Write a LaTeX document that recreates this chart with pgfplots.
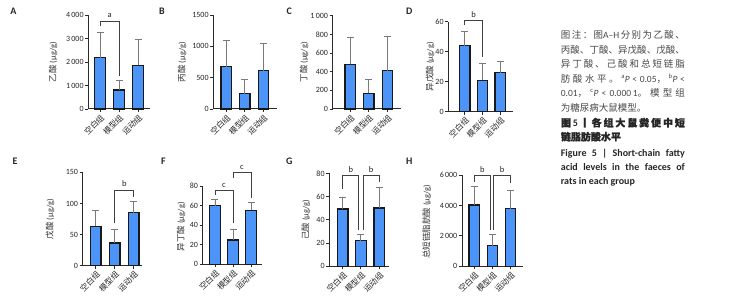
\documentclass[border=0pt]{standalone}
\usepackage{fontspec}
\setmainfont{Carlito}
\newfontfamily\cjk{Noto Sans CJK SC}
\newfontfamily\cjkb[FakeBold=1.2]{Noto Sans CJK SC}
\usepackage{pgfplots}
\pgfplotsset{compat=1.18}
\makeatletter
\def\spread#1{\spread@a#1\spread@end}
\def\spread@a#1{#1\spread@b}
\def\spread@b#1{\ifx\spread@end#1\else\hskip 0pt plus 1fil\relax#1\expandafter\spread@b\fi}
\makeatother
\def\g{\hskip 0pt plus 1fil\relax}
\definecolor{barblue}{HTML}{4D94F8}
\definecolor{axisc}{HTML}{2B2B2B}
\definecolor{errc}{HTML}{7A7A7A}
\pgfplotsset{
  panel/.style={
    scale only axis, anchor=south west, clip=false,
    axis x line*=bottom, axis y line*=left,
    axis line style={-, line width=1pt, color=axisc},
    ymin=0, xtick={0,1,2},
    xticklabels={空白组,模型组,运动组},
    tick align=outside, major tick length=3pt,
    tick style={line width=0.9pt, color=axisc},
    x tick label style={font=\cjk\fontsize{8}{8}\selectfont, rotate=45, anchor=north east, inner sep=1pt, color=black!85},
    y tick label style={font=\fontsize{8}{8}\selectfont, inner sep=1.5pt, color=black!85},
    /pgf/number format/assume math mode=true,
    /pgf/number format/1000 sep={\,},
    ybar, bar width=10.5pt,
  },
  barplot/.style={fill=barblue, draw=black!90, line width=1.2pt,
    error bars/.cd, y dir=plus, y explicit,
      error bar style={line width=0.9pt, color=errc},
      error mark options={rotate=90, mark size=3.5pt, line width=0.9pt, color=errc}},
}
\tikzset{
  bracket/.style={line width=0.9pt, color=black!75},
  sig/.style={font=\fontsize{8.5}{8.5}\selectfont, color=black!85, inner sep=0pt},
  ylab/.style={rotate=90, font=\fontsize{8.5}{8.5}\selectfont, color=black!80, inner sep=0pt},
}
\begin{document}
\begin{tikzpicture}
\useasboundingbox (0pt,0pt) rectangle (740pt,308pt);
\begin{scope}[every node/.style={font=\bfseries\fontsize{10}{10}\selectfont, color=black!85}]
\node at (13.3pt,297pt) {A};
\node at (162pt,297pt) {B};
\node at (289.3pt,297pt) {C};
\node at (409.3pt,297pt) {D};
\node at (15pt,147pt) {E};
\node at (163.3pt,147pt) {F};
\node at (289.3pt,147pt) {G};
\node at (409.3pt,147pt) {H};
\end{scope}
% y axis titles
\node[ylab] at (53pt,246pt) {{\cjk 乙酸} (μg/g)};
\node[ylab] at (182pt,246pt) {{\cjk 丙酸} (μg/g)};
\node[ylab] at (304pt,245.6pt) {{\cjk 丁酸} (μg/g)};
\node[ylab] at (430pt,241.3pt) {{\cjk 异戊酸} (μg/g)};
\node[ylab] at (50pt,89pt) {{\cjk 戊酸} (μg/g)};
\node[ylab] at (181pt,81.3pt) {{\cjk 异丁酸} (μg/g)};
\node[ylab] at (305.7pt,88.2pt) {{\cjk 己酸} (μg/g)};
\node[ylab] at (426.7pt,86.3pt) {{\cjk 总短链脂肪酸} (μg/g)};

% A
\begin{axis}[panel, at={(88.3pt,199pt)}, width=61.7pt, height=94pt, xmin=-0.62, xmax=2.63, ymax=4000, ytick={0,1000,2000,3000,4000}]
\addplot[barplot] coordinates {(0,2180) +- (0,1080) (1,810) +- (0,410) (2,1860) +- (0,1100)};
\draw[bracket] (axis cs:0,3532) -- (axis cs:0,3745) -- (axis cs:1,3745) -- (axis cs:1,1404);
\node[sig] at (axis cs:0.5,4000) {a};
\end{axis}

% B
\begin{axis}[panel, at={(213.3pt,199pt)}, width=63.4pt, height=94pt, xmin=-0.70, xmax=2.72, ymax=1500, ytick={0,500,1000,1500}, /pgf/number format/1000 sep={}]
\addplot[barplot] coordinates {(0,676) +- (0,425) (1,245) +- (0,228) (2,612) +- (0,436)};
\end{axis}

% C
\begin{axis}[panel, at={(332.7pt,199pt)}, width=68pt, height=93.3pt, xmin=-0.94, xmax=2.71, ymax=1000, ytick={0,200,400,600,800,1000}]
\addplot[barplot] coordinates {(0,479) +- (0,289) (1,168) +- (0,150) (2,411) +- (0,371)};
\end{axis}

% D
\begin{axis}[panel, at={(448.3pt,196.3pt)}, width=65pt, height=90pt, xmin=-0.93, xmax=2.73, ymax=60, ytick={0,20,40,60}]
\addplot[barplot] coordinates {(0,44.1) +- (0,9.5) (1,21) +- (0,11.3) (2,26.1) +- (0,7.6)};
\draw[bracket] (axis cs:0,57.8) -- (axis cs:0,61.1) -- (axis cs:1,61.1) -- (axis cs:1,36.7);
\node[sig] at (axis cs:0.5,64.9) {b};
\end{axis}

% E
\begin{axis}[panel, at={(82.7pt,42.3pt)}, width=59pt, height=93.4pt, xmin=-0.69, xmax=2.42, ymax=150, ytick={0,50,100,150}]
\addplot[barplot] coordinates {(0,63.2) +- (0,25.8) (1,36.4) +- (0,22.6) (2,85.2) +- (0,18.2)};
\draw[bracket] (axis cs:1,68) -- (axis cs:1,121) -- (axis cs:2,121) -- (axis cs:2,111);
\node[sig] at (axis cs:1.5,132) {b};
\end{axis}

% F
\begin{axis}[panel, at={(202.7pt,43.7pt)}, width=59pt, height=78.3pt, xmin=-0.68, xmax=2.59, ymax=80, ytick={0,20,40,60,80}]
\addplot[barplot] coordinates {(0,59.9) +- (0,6.5) (1,24.9) +- (0,11.2) (2,55.1) +- (0,8.2)};
\draw[bracket] (axis cs:0,70.8) -- (axis cs:0,75.6) -- (axis cs:1,75.6) -- (axis cs:1,41.9);
\node[sig] at (axis cs:0.5,81) {c};
\draw[bracket] (axis cs:1,87.8) -- (axis cs:1,93.6) -- (axis cs:2,93.6) -- (axis cs:2,67.4);
\node[sig] at (axis cs:1.5,99) {c};
\end{axis}

% G
\begin{axis}[panel, at={(329.3pt,41.7pt)}, width=60pt, height=93pt, xmin=-0.73, xmax=2.55, ymax=80, ytick={0,20,40,60,80}]
\addplot[barplot] coordinates {(0,49.3) +- (0,10.1) (1,22.1) +- (0,4.9) (2,50.2) +- (0,17.8)};
\draw[bracket] (axis cs:0,66.8) -- (axis cs:0,78) -- (axis cs:0.89,78) -- (axis cs:0.89,31.3);
\draw[bracket] (axis cs:1.11,31.3) -- (axis cs:1.11,78) -- (axis cs:2,78) -- (axis cs:2,72.3);
\node[sig] at (axis cs:0.445,82.9) {b};
\node[sig] at (axis cs:1.555,82.9) {b};
\end{axis}

% H
\begin{axis}[panel, at={(462pt,41.7pt)}, width=60.7pt, height=91.3pt, xmin=-0.68, xmax=2.67, ymax=6000, ytick={0,2000,4000,6000}]
\addplot[barplot] coordinates {(0,4030) +- (0,1205) (1,1358) +- (0,745) (2,3790) +- (0,1183)};
\draw[bracket] (axis cs:0,5563) -- (axis cs:0,5958) -- (axis cs:0.9,5958) -- (axis cs:0.9,2388);
\draw[bracket] (axis cs:1.08,2388) -- (axis cs:1.08,5958) -- (axis cs:2,5958) -- (axis cs:2,5454);
\node[sig] at (axis cs:0.45,6331) {b};
\node[sig] at (axis cs:1.54,6331) {b};
\end{axis}

% caption
\begin{scope}[every node/.style={anchor=base west, inner sep=0pt, color=black!72, font=\fontsize{9.5}{9.5}\selectfont}]
\node at (560.7pt,269.4pt) {\makebox[124pt][s]{{\cjk\spread{图注：图}}A–H\g{\cjk\spread{分别为乙酸、}}}};
\node at (560.7pt,254.4pt) {\makebox[124pt][s]{\cjk\spread{丙酸、丁酸、异戊酸、戊酸、}}};
\node at (560.7pt,240.1pt) {\makebox[124pt][s]{\cjk\spread{异丁酸、己酸和总短链脂}}};
\node at (560.7pt,225.7pt) {\makebox[124pt][s]{{\cjk\spread{肪酸水平。}}\g\textsuperscript{a}\textit{P}\g<\g0.05{\cjk ，}\g\textsuperscript{b}\textit{P}\g<}};
\node at (560.7pt,211.7pt) {\makebox[124pt][s]{0.01{\cjk ，}\g\textsuperscript{c}\textit{P}\g<\g0.000\,1{\cjk 。}\g{\cjk\spread{模型组}}}};
\node at (560.7pt,196.7pt) {{\cjk 为糖尿病大鼠模型。}};
\end{scope}
\begin{scope}[every node/.style={anchor=base west, inner sep=0pt, color=black!85, font=\bfseries\fontsize{10}{10}\selectfont}]
\node at (560.7pt,181.5pt) {\makebox[124pt][s]{{\cjkb 图}\g5\g{\cjkb 丨}\g{\cjkb\spread{各组大鼠粪便中短}}}};
\node at (560.7pt,167.5pt) {{\cjkb 链脂肪酸水平}};
\node at (560.7pt,151.5pt) {\makebox[124pt][s]{Figure 5 | Short-chain fatty}};
\node at (560.7pt,137.7pt) {\makebox[124pt][s]{acid levels in the faeces of}};
\node at (560.7pt,123.7pt) {rats in each group};
\end{scope}
\end{tikzpicture}
\end{document}
